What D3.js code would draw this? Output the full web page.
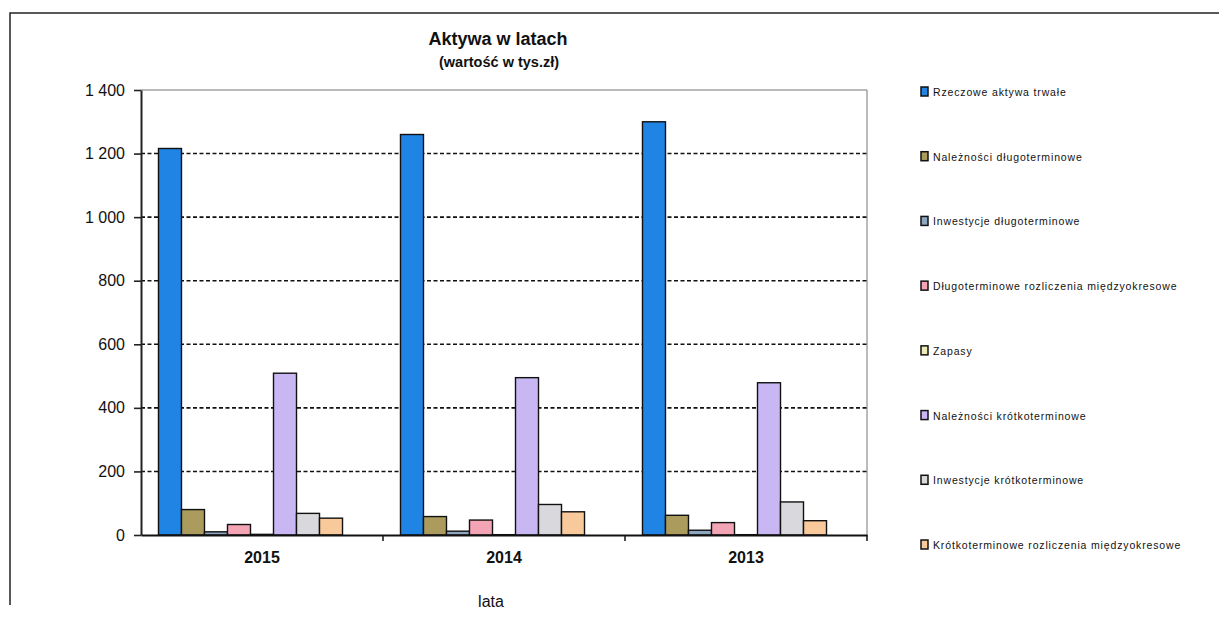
<!DOCTYPE html>
<html><head><meta charset="utf-8">
<script src="https://cdn.jsdelivr.net/npm/d3@7/dist/d3.min.js"></script>
<style>body{margin:0;background:#fff}svg{display:block;font-family:"Liberation Sans",Arial,sans-serif}</style>
</head><body><svg id="c" width="1219" height="638"></svg>
<script>
const years = ["2015", "2014", "2013"];
const seriesNames = [
  "Rzeczowe aktywa trwałe",
  "Należności długoterminowe",
  "Inwestycje długoterminowe",
  "Długoterminowe rozliczenia międzyokresowe",
  "Zapasy",
  "Należności krótkoterminowe",
  "Inwestycje krótkoterminowe",
  "Krótkoterminowe rozliczenia międzyokresowe"
];
const rzeczowe = [1216, 1260, 1300];
const naleznosciDl = [80, 58, 62];
const inwestycjeDl = [10, 12, 15];
const rozliczeniaDl = [33, 47, 39];
const zapasy = [2, 1, 1];
const naleznosciKr = [509, 495, 479];
const inwestycjeKr = [68, 96, 104];
const rozliczeniaKr = [53, 73, 45];
const seriesValues = [rzeczowe, naleznosciDl, inwestycjeDl, rozliczeniaDl, zapasy, naleznosciKr, inwestycjeKr, rozliczeniaKr];
const colors = ["#1f84e4", "#ab9c5e", "#8fa6c0", "#f4a5b5", "#ecebb8", "#c9b7f3", "#d9d8dc", "#f8c99a"];
const yTicks = [0, 200, 400, 600, 800, 1000, 1200, 1400];

const svg = d3.select("#c");
const L = 141, R = 867, T = 90, B = 535;

// outer frame
svg.append("path").attr("d", `M10,605 L10,13 L1219,13`).attr("fill","none").attr("stroke","#222").attr("stroke-width",1.5);

const x0 = d3.scaleBand().domain(years).range([L, R]).padding(0);
const x1 = d3.scaleBand().domain(d3.range(9)).range([0, x0.bandwidth()]).paddingInner(0).paddingOuter(0.76);
const y = d3.scaleLinear().domain([0, 1400]).range([B, T]);

// plot border top/right
svg.append("path").attr("d", `M${L},${T} L${R},${T} L${R},${B}`).attr("fill","none").attr("stroke","#777").attr("stroke-width",1);

// gridlines
svg.append("g").selectAll("line").data(yTicks.filter(d => d > 0 && d < 1400)).join("line")
  .attr("x1", L).attr("x2", R).attr("y1", d => y(d)).attr("y2", d => y(d))
  .attr("stroke", "#111").attr("stroke-width", 1.6).attr("stroke-dasharray", "4,2.5");

// bars
const fmt = d => d3.format(",")(d).replace(/,/g, " ");
years.forEach((yr, i) => {
  const g = svg.append("g").attr("transform", `translate(${x0(yr)},0)`);
  g.selectAll("rect").data(seriesValues.map((s, k) => ({k, v: s[i]}))).join("rect")
    .attr("x", d => x1(d.k)).attr("width", x1.bandwidth())
    .attr("y", d => y(d.v)).attr("height", d => B - y(d.v))
    .attr("fill", d => colors[d.k]).attr("stroke", "#111").attr("stroke-width", 1.4);
});

// y axis
const ya = svg.append("g").attr("transform", `translate(${L},0)`)
  .call(d3.axisLeft(y).tickValues(yTicks).tickSize(7).tickSizeOuter(0).tickFormat(fmt));
ya.select(".domain").attr("stroke", "#222").attr("stroke-width", 2);
ya.selectAll(".tick line").attr("stroke", "#222").attr("stroke-width", 1.6);
ya.selectAll(".tick text").attr("font-size", 16).attr("fill", "#111").attr("x", -16).attr("font-family", "Liberation Sans, Arial, sans-serif");

// x axis
const xa = svg.append("g").attr("transform", `translate(0,${B})`)
  .call(d3.axisBottom(x0).tickSize(0).tickSizeOuter(0));
xa.select(".domain").attr("stroke", "#111").attr("stroke-width", 2);
xa.selectAll(".tick text").attr("font-size", 16).attr("font-weight", "bold").attr("fill", "#111").attr("dy", "1.55em").attr("font-family", "Liberation Sans, Arial, sans-serif");
svg.append("g").selectAll("line").data(years.slice(1)).join("line")
  .attr("x1", d => x0(d)).attr("x2", d => x0(d)).attr("y1", B).attr("y2", B + 6)
  .attr("stroke", "#111").attr("stroke-width", 1.5);
svg.append("g").selectAll("line").data([0]).join("line")
  .attr("x1", R).attr("x2", R).attr("y1", B).attr("y2", B + 6).attr("stroke", "#111").attr("stroke-width", 1.5);

// titles
svg.append("text").attr("x", 498).attr("y", 45).attr("text-anchor", "middle").attr("font-size", 18).attr("font-weight", "bold").attr("fill", "#111").text("Aktywa w latach");
svg.append("text").attr("x", 499).attr("y", 67).attr("text-anchor", "middle").attr("font-size", 14.5).attr("font-weight", "bold").attr("fill", "#111").text("(wartość w tys.zł)");
svg.append("text").attr("x", 491).attr("y", 607).attr("text-anchor", "middle").attr("font-size", 16).attr("fill", "#111").text("lata");

// legend
const lg = svg.append("g");
const ly = d3.scalePoint().domain(d3.range(seriesNames.length)).range([92, 545]);
seriesNames.forEach((n, k) => {
  lg.append("rect").attr("x", 921).attr("y", ly(k) - 5).attr("width", 7).attr("height", 9)
    .attr("fill", colors[k]).attr("stroke", "#111").attr("stroke-width", 1.5);
  lg.append("text").attr("x", 933).attr("y", ly(k) + 4).attr("font-size", 10.5).attr("letter-spacing", 0.85).attr("fill", "#111").text(n);
});
</script></body></html>
